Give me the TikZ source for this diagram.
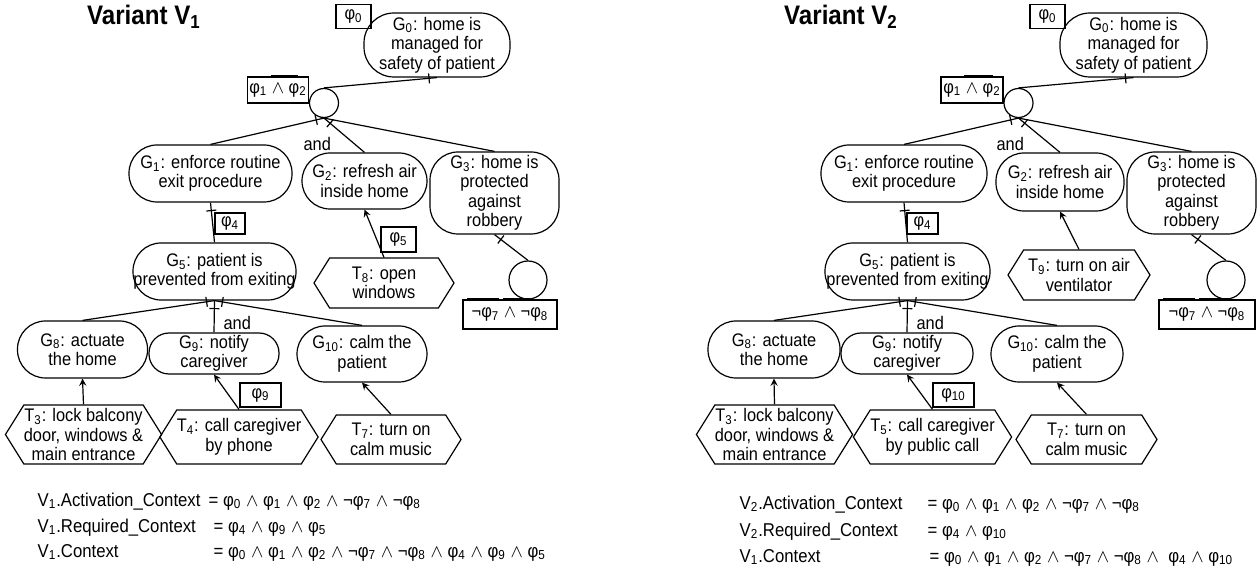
\documentclass[tikz,border=0pt]{standalone}
\usepackage{fontspec}
\setmainfont{Liberation Sans}[FakeStretch=0.9]
\usetikzlibrary{arrows,shapes.symbols,decorations.markings}
\newcommand{\cx}[1]{φ\textsubscript{#1}}
\newcommand{\wg}{$\wedge$}
\newcommand{\goalfont}{\fontsize{9.1}{9.75}\selectfont}
\newcommand{\varfont}{\fontsize{13.4}{15}\selectfont\bfseries}
\newcommand{\eqfont}{\fontsize{9.3}{11}\selectfont}

\begin{document}
\begin{tikzpicture}[x=0.5pt,y=-0.5pt,>=stealth,line width=0.6pt,font=\goalfont,
    goal/.style={draw,rectangle,rounded corners=14pt,align=center,inner sep=0pt},
    task/.style={draw,signal,signal to=west and east,signal pointer angle=116,align=center,inner sep=0pt},
    ctx/.style={draw,rectangle,inner sep=1pt,minimum height=12pt},
    decomp/.style={draw,circle,inner sep=0pt},
    formula/.style={anchor=base west,inner sep=0pt,font=\eqfont},
    bar/.style={line width=1pt},
    tickstart/.style={postaction={decorate,decoration={markings,
      mark=at position 4pt with {\draw[-] (0,-2.5pt) -- (0,2.5pt);}}}}]
    \useasboundingbox (0,0) rectangle (1259,572);

    \node[font=\varfont] (varA) at (144,17) {Variant V\textsubscript{1}};
    \node[ctx,minimum width=17.5pt] (phi0a) at (353.5,16.5) {\cx{0}};
    \node[goal,minimum width=73pt,minimum height=32pt,rounded corners=15pt] (G0a) at (437,45) {G\textsubscript{0}: home is\\managed for\\safety of patient};
    \node[ctx,minimum width=30.75pt,minimum height=13pt] (phi12a) at (278,90) {\cx{1} \wg{} \cx{2}};
    \node[decomp,minimum size=14.5pt] (orA) at (324,103) {};
    \node[goal,minimum width=81.5pt,minimum height=28.5pt] (G1a) at (210.5,173.5) {G\textsubscript{1}: enforce routine\\exit procedure};
    \node[anchor=base west,inner sep=0pt] (andA) at (303,151) {and};
    \node[goal,minimum width=62.5pt,minimum height=28pt] (G2a) at (364.5,181) {G\textsubscript{2}: refresh air\\inside home};
    \node[goal,minimum width=64.5pt,minimum height=41pt] (G3a) at (494.5,193) {G\textsubscript{3}: home is\\protected\\against\\robbery};
    \node[ctx,minimum width=15pt,minimum height=10.5pt] (phi4a) at (230,223.5) {\cx{4}};
    \node[goal,minimum width=81.5pt,minimum height=28.5pt] (G5a) at (214.5,271.5) {G\textsubscript{5}: patient is\\prevented from exiting};
    \node[task,minimum width=70pt,minimum height=25pt] (T8a) at (384,283) {T\textsubscript{8}: open\\windows};
    \node[ctx,minimum width=17.5pt,minimum height=12.5pt] (phi5a) at (398.5,239.5) {\cx{5}};
    \node[decomp,minimum size=19pt] (orB) at (528,280) {};
    \node[ctx,minimum width=47pt,minimum height=14.5pt] (neg78a) at (510,314.5) {¬\cx{7} \wg{} ¬\cx{8}};
    \node[goal,minimum width=65pt,minimum height=28.5pt] (G8a) at (82.5,349.5) {G\textsubscript{8}: actuate\\the home};
    \node[anchor=base west,inner sep=0pt] (andB) at (223,330) {and};
    \node[goal,minimum width=65pt,minimum height=20.5pt,rounded corners=10pt] (G9a) at (214,353.5) {G\textsubscript{9}: notify\\caregiver};
    \node[goal,minimum width=65pt,minimum height=28pt] (G10a) at (362,354) {G\textsubscript{10}: calm the\\patient};
    \node[task,minimum width=73.5pt,minimum height=29.5pt] (T3a) at (83.5,434.5) {T\textsubscript{3}: lock balcony\\door, windows \&\\main entrance};
    \node[task,minimum width=74pt,minimum height=27pt] (T4a) at (239,437) {T\textsubscript{4}: call caregiver\\by phone};
    \node[ctx,minimum width=20.5pt] (phi9a) at (260.5,395) {\cx{9}};
    \node[task,minimum width=70pt,minimum height=24.5pt] (T7a) at (391,439.5) {T\textsubscript{7}: turn on\\calm music};

    \draw[tickstart] (G0a.south) -- (orA.north);
    \draw[tickstart] (orA.south) -- (G1a.north); \draw[tickstart] (orA.south) -- (G2a.north); \draw (orA.south) -- (G3a.north);
    \draw[tickstart] (G1a.south) -- (G5a.north); \draw[tickstart] (G3a.south) -- (orB.north);
    \draw[->] (T8a.north) -- (G2a.south);
    \draw[tickstart] (G5a.south) -- (G8a.north); \draw[tickstart] (G5a.south) -- (G9a.north); \draw[tickstart] (G5a.south) -- (G10a.north);
    \draw[->] (T3a.north) -- (G8a.south); \draw[->] (T4a.north) -- (G9a.south); \draw[->] (T7a.north) -- (G10a.south);
    \draw[bar] ([xshift=12.25pt]phi12a.north west) -- ([xshift=25.75pt]phi12a.north west);
    \draw[bar] ([xshift=2.5pt]neg78a.north west) -- ([xshift=18.5pt]neg78a.north west);
    \draw[bar] ([xshift=20.5pt]neg78a.north west) -- ([xshift=33.5pt]neg78a.north west);

    \node[formula] (actA) at (37,506) {V\textsubscript{1}.Activation\_Context};
    \node[formula] (actAeq) at (208,506) {= \cx{0} \wg{} \cx{1} \wg{} \cx{2} \wg{} ¬\cx{7} \wg{} ¬\cx{8}};
    \node[formula] (reqA) at (37,532) {V\textsubscript{1}.Required\_Context};
    \node[formula] (reqAeq) at (213,532) {= \cx{4} \wg{} \cx{9} \wg{} \cx{5}};
    \node[formula] (ctxA) at (37,557) {V\textsubscript{1}.Context};
    \node[formula] (ctxAeq) at (213,557) {= \cx{0} \wg{} \cx{1} \wg{} \cx{2} \wg{} ¬\cx{7} \wg{} ¬\cx{8} \wg{} \cx{4} \wg{} \cx{9} \wg{} \cx{5}};

    \node[font=\varfont] (varB) at (841,17) {Variant V\textsubscript{2}};
    \node[ctx,minimum width=17.5pt] (phi0b) at (1047.5,16.5) {\cx{0}};
    \node[goal,minimum width=73.5pt,minimum height=32pt,rounded corners=15pt] (G0b) at (1133.5,45) {G\textsubscript{0}: home is\\managed for\\safety of patient};
    \node[ctx,minimum width=31pt,minimum height=13pt] (phi12b) at (972,90) {\cx{1} \wg{} \cx{2}};
    \node[decomp,minimum size=14.5pt] (orC) at (1018.5,103) {};
    \node[goal,minimum width=83pt,minimum height=28.5pt] (G1b) at (904,173.5) {G\textsubscript{1}: enforce routine\\exit procedure};
    \node[anchor=base west,inner sep=0pt] (andC) at (996,151) {and};
    \node[goal,minimum width=64pt,minimum height=29pt] (G2b) at (1060,182) {G\textsubscript{2}: refresh air\\inside home};
    \node[goal,minimum width=64.5pt,minimum height=41pt] (G3b) at (1191.5,193) {G\textsubscript{3}: home is\\protected\\against\\robbery};
    \node[ctx,minimum width=15.5pt,minimum height=10.5pt] (phi4b) at (922.5,223.5) {\cx{4}};
    \node[goal,minimum width=82.5pt,minimum height=28.5pt] (G5b) at (907.5,271.5) {G\textsubscript{5}: patient is\\prevented from exiting};
    \node[task,minimum width=71pt,minimum height=25pt] (T9b) at (1079,275) {T\textsubscript{9}: turn on air\\ventilator};
    \node[decomp,minimum size=19pt] (orD) at (1226,280) {};
    \node[ctx,minimum width=48pt,minimum height=14.5pt] (neg78b) at (1207,314.5) {¬\cx{7} \wg{} ¬\cx{8}};
    \node[goal,minimum width=66pt,minimum height=28.5pt] (G8b) at (774,349.5) {G\textsubscript{8}: actuate\\the home};
    \node[anchor=base west,inner sep=0pt] (andD) at (916,330) {and};
    \node[goal,minimum width=66pt,minimum height=20.5pt,rounded corners=10pt] (G9b) at (907,353.5) {G\textsubscript{9}: notify\\caregiver};
    \node[goal,minimum width=66pt,minimum height=28pt] (G10b) at (1057,354) {G\textsubscript{10}: calm the\\patient};
    \node[task,minimum width=74.5pt,minimum height=29.5pt] (T3b) at (774.5,434.5) {T\textsubscript{3}: lock balcony\\door, windows \&\\main entrance};
    \node[task,minimum width=74.5pt,minimum height=27pt] (T5b) at (932.5,437) {T\textsubscript{5}: call caregiver\\by public call};
    \node[ctx,minimum width=20.5pt] (phi10b) at (953.5,395) {\cx{10}};
    \node[task,minimum width=70.5pt,minimum height=24.5pt] (T7b) at (1086.5,439.5) {T\textsubscript{7}: turn on\\calm music};

    \draw[tickstart] (G0b.south) -- (orC.north);
    \draw[tickstart] (orC.south) -- (G1b.north); \draw[tickstart] (orC.south) -- (G2b.north); \draw (orC.south) -- (G3b.north);
    \draw[tickstart] (G1b.south) -- (G5b.north); \draw[tickstart] (G3b.south) -- (orD.north);
    \draw[->] (T9b.north) -- (G2b.south);
    \draw[tickstart] (G5b.south) -- (G8b.north); \draw[tickstart] (G5b.south) -- (G9b.north); \draw[tickstart] (G5b.south) -- (G10b.north);
    \draw[->] (T3b.north) -- (G8b.south); \draw[->] (T5b.north) -- (G9b.south); \draw[->] (T7b.north) -- (G10b.south);
    \draw[bar] ([xshift=12pt]phi12b.north west) -- ([xshift=26.5pt]phi12b.north west);
    \draw[bar] ([xshift=2.5pt]neg78b.north west) -- ([xshift=18.5pt]neg78b.north west);
    \draw[bar] ([xshift=20.5pt]neg78b.north west) -- ([xshift=36.5pt]neg78b.north west);

    \node[formula] (actB) at (739,509) {V\textsubscript{2}.Activation\_Context};
    \node[formula] (actBeq) at (927,509) {= \cx{0} \wg{} \cx{1} \wg{} \cx{2} \wg{} ¬\cx{7} \wg{} ¬\cx{8}};
    \node[formula] (reqB) at (739,536) {V\textsubscript{2}.Required\_Context};
    \node[formula] (reqBeq) at (927,536) {= \cx{4} \wg{} \cx{10}};
    \node[formula] (ctxB) at (739,562) {V\textsubscript{1}.Context};
    \node[formula] (ctxBeq) at (929,562) {= \cx{0} \wg{} \cx{1} \wg{} \cx{2} \wg{} ¬\cx{7} \wg{} ¬\cx{8} \wg{}\ \ \cx{4} \wg{} \cx{10}};
\end{tikzpicture}
\end{document}
